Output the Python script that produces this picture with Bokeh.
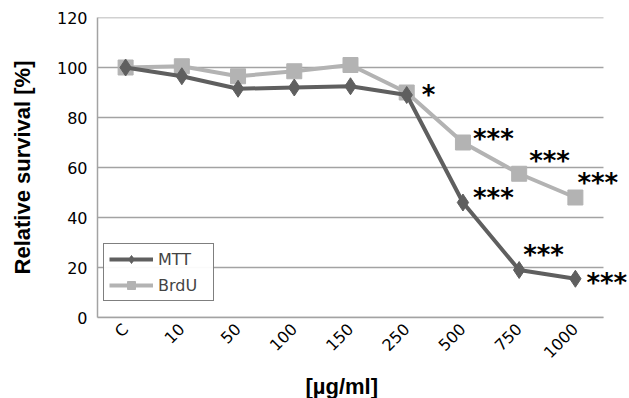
from bokeh.plotting import figure
from bokeh.models import (ColumnDataSource, Legend, LegendItem, FixedTicker, Label,
                          Range1d, Title)
from bokeh.embed import file_html
from bokeh.resources import INLINE
import math

categories = ["C", "10", "50", "100", "150", "250", "500", "750", "1000"]
mtt = [100, 96.5, 91.5, 92, 92.5, 89, 46, 19, 15.5]
brdu = [100, 100.5, 96.5, 98.5, 101, 90, 70, 57.5, 48]
mtt_sig = ["", "", "", "", "", "", "***", "***", "***"]
brdu_sig = ["", "", "", "", "", "*", "***", "***", "***"]
y_ticks = [0, 20, 40, 60, 80, 100, 120]

# screen-pixel placement of the significance marks (style only)
mtt_dx = [0, 0, 0, 0, 0, 0, 10, 4, 11]
mtt_dy = [0, 0, 0, 0, 0, 0, 9, 19, 0]
brdu_dx = [0, 0, 0, 0, 0, 15, 10, 10, 2]
brdu_dy = [0, 0, 0, 0, 0, 2, 8, 17, 19]

TICK_FONT = "DejaVu Sans"
TITLE_FONT = "Liberation Sans"
DARK = "#5f5f5f"
LIGHT = "#b3b3b3"
GRID = "#a3a3a3"
STAR_PX = 26
STAR_SHIFT = 4

n = len(categories)
xs = [i + 0.5 for i in range(n)]          # category centres on the axis
X_END = n * 1.0514                         # extra room on the right for the asterisks

p = figure(x_range=Range1d(0, X_END), y_range=(0, 120), width=629, height=398,
           output_backend="svg", toolbar_location=None,
           min_border_left=97, min_border_right=0, min_border_top=17, min_border_bottom=80)
p.outline_line_color = None
p.xgrid.visible = False
p.ygrid.visible = False
p.yaxis.ticker = FixedTicker(ticks=y_ticks)
p.xaxis.ticker = FixedTicker(ticks=xs)
p.xaxis.major_label_overrides = {x: c for x, c in zip(xs, categories)}
p.xaxis.bounds = (0, n)

for ax in (p.xaxis, p.yaxis):
    ax.axis_line_color = GRID
    ax.axis_line_width = 1.5
    ax.major_tick_line_color = None
    ax.minor_tick_line_color = None
    ax.major_tick_out = 0
    ax.major_tick_in = 0
    ax.minor_tick_out = 0
    ax.major_label_text_font = TICK_FONT
    ax.major_label_text_font_size = "16px"
    ax.major_label_text_color = "black"
    ax.axis_label_text_font = TITLE_FONT
    ax.axis_label_text_font_size = "22px"
    ax.axis_label_text_font_style = "bold"
    ax.axis_label_text_color = "black"

p.yaxis.axis_label = "Relative survival [%]"
p.xaxis.major_label_orientation = math.pi / 4
p.xaxis.major_label_standoff = 9
p.yaxis.major_label_standoff = 10
p.yaxis.axis_label_standoff = 19

xtitle = Title(text="[µg/ml]", align="left", offset=208, standoff=0,
               text_font=TITLE_FONT, text_font_size="22px", text_font_style="bold",
               text_color="black")
p.add_layout(xtitle, "below")

# horizontal gridlines across the category span only
p.segment(x0=[0] * len(y_ticks), x1=[n] * len(y_ticks), y0=y_ticks, y1=y_ticks,
          line_color=GRID, line_width=1.5, level="underlay")

src = ColumnDataSource(dict(x=xs, mtt=mtt, brdu=brdu))

l2 = p.line("x", "brdu", source=src, color=LIGHT, line_width=4)
s2 = p.scatter("x", "brdu", source=src, marker="square", size=15, color=LIGHT)
l1 = p.line("x", "mtt", source=src, color=DARK, line_width=4)
s1 = p.scatter("x", "mtt", source=src, marker="diamond", size=17, color=DARK)

for vals, sigs, dxs, dys in ((mtt, mtt_sig, mtt_dx, mtt_dy), (brdu, brdu_sig, brdu_dx, brdu_dy)):
    for x, v, s, dx, dy in zip(xs, vals, sigs, dxs, dys):
        if not s:
            continue
        p.add_layout(Label(x=x, y=v, text=s, x_offset=dx, y_offset=dy - STAR_SHIFT,
                           text_font="DejaVu Sans", text_font_size=f"{STAR_PX}px",
                           text_font_style="bold", text_align="left",
                           text_baseline="alphabetic", text_color="black"))

legend = Legend(items=[LegendItem(label="MTT", renderers=[l1, s1]),
                       LegendItem(label="BrdU", renderers=[l2, s2])],
                location=(6, 16))
legend.border_line_color = "black"
legend.border_line_width = 1
legend.background_fill_color = "white"
legend.label_text_font = TICK_FONT
legend.label_text_font_size = "16px"
legend.glyph_width = 44
legend.glyph_height = 20
legend.spacing = 6
legend.padding = 5
legend.margin = 0
legend.label_standoff = 5
legend.label_width = 50
p.add_layout(legend, "center")

open("out.html", "w").write(file_html(p, INLINE))
